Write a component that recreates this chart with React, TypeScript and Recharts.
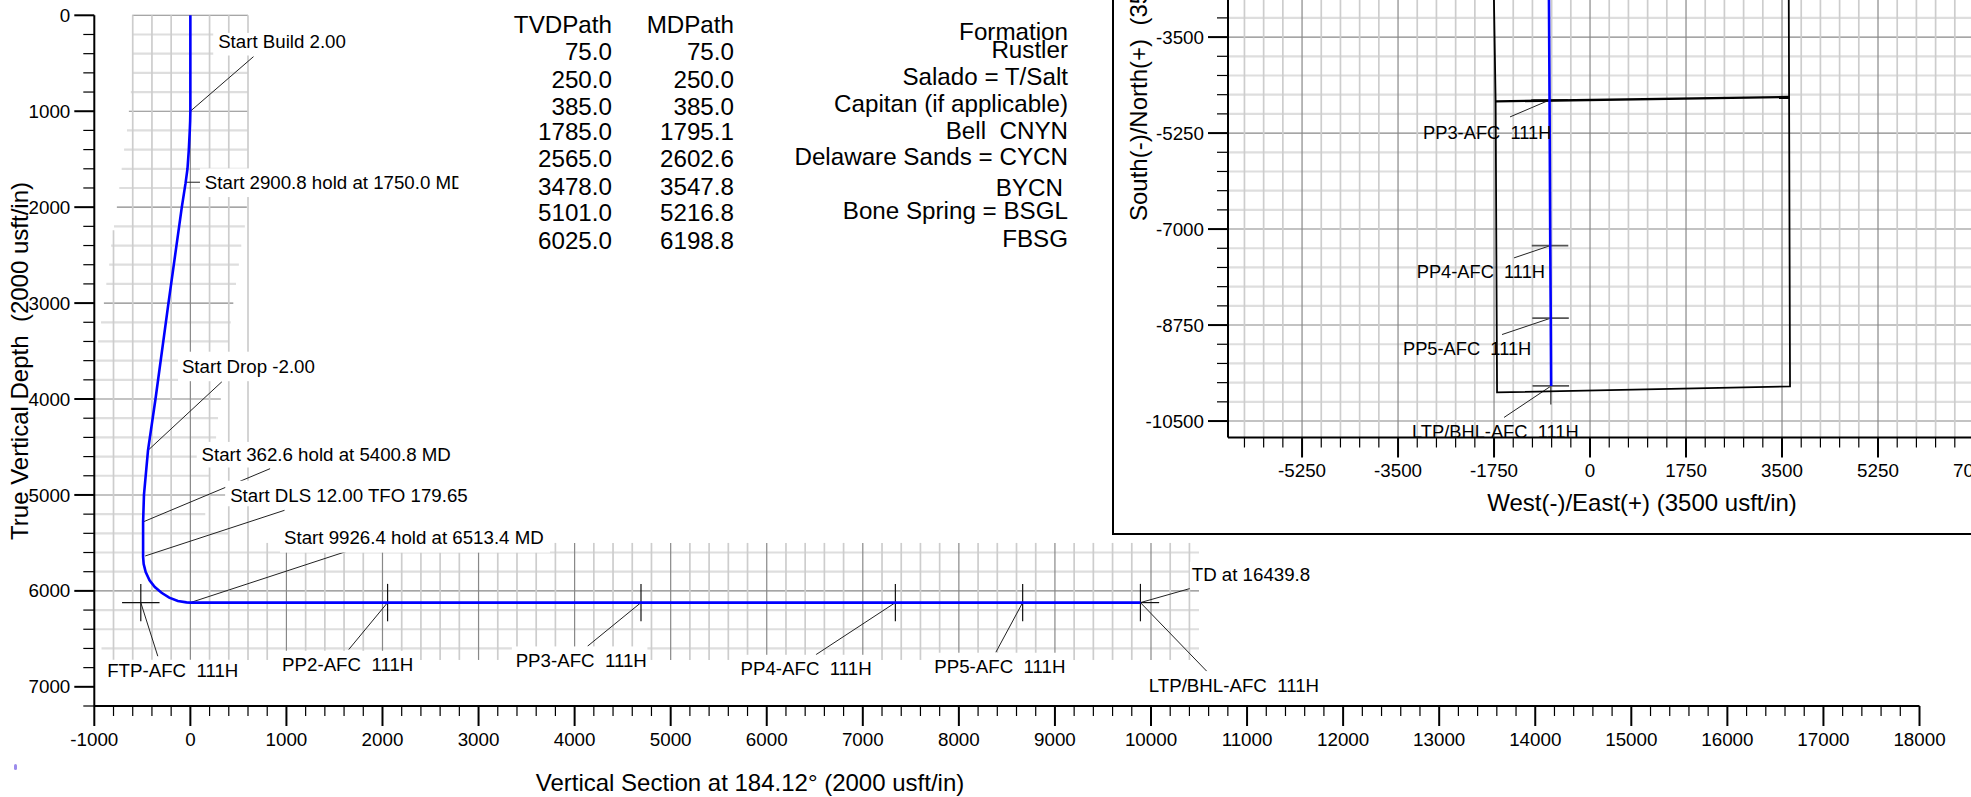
import { ComposedChart, Line, XAxis, YAxis, ReferenceLine, ReferenceDot } from "recharts"

const FONT = '"Liberation Sans", Arial, sans-serif'

// vertical section
const wellVs = [0, 0, -2, -6, -16, -30, -50, -89, -228, -363, -441, -483, -492, -492, -486, -465, -425, -370, -300, -220, -130, -40, 0, 2053, 4691, 7339, 8664, 9890]
const wellTvd = [0, 1000, 1100, 1200, 1400, 1600, 1750, 2000, 3000, 4000, 4535, 5000, 5281, 5645, 5720, 5805, 5890, 5960, 6020, 6070, 6105, 6120, 6122, 6122, 6122, 6122, 6122, 6122]
const xLabels = [-1000, 0, 1000, 2000, 3000, 4000, 5000, 6000, 7000, 8000, 9000, 10000, 11000, 12000, 13000, 14000, 15000, 16000, 17000, 18000]
const yLabels = [0, 1000, 2000, 3000, 4000, 5000, 6000, 7000]

// extent of the section grid at each depth
const gridDepths = [0, 200, 400, 600, 800, 1000, 1200, 1400, 1600, 1800, 2000, 2200, 2400, 2600, 2800, 3000, 3200, 3400, 3600, 3800, 4000, 4200, 4400, 4600, 4800, 5000, 5200, 5400, 5600, 5800, 6000, 6200, 6400, 6600]
const gridFrom = [-605, -605, -605, -605, -620, -640, -660, -690, -715, -740, -765, -795, -825, -845, -875, -900, -930, -960, -980, -1000, -1000, -1000, -1000, -1000, -1000, -1000, -1000, -1000, -1000, -1000, -1000, -1000, -1000, -925]
const gridTo = [600, 600, 600, 600, 600, 600, 600, 600, 600, 600, 588, 567, 530, 505, 475, 447, 420, 393, 365, 340, 317, 288, 268, 240, 206, 365, 155, 400, 10500, 10500, 10500, 10500, 10500, 10500]

const noteTexts = ["Start Build 2.00", "Start 2900.8 hold at 1750.0 MD", "Start Drop -2.00", "Start 362.6 hold at 5400.8 MD", "Start DLS 12.00 TFO 179.65", "Start 9926.4 hold at 6513.4 MD", "TD at 16439.8", "FTP-AFC  111H", "PP2-AFC  111H", "PP3-AFC  111H", "PP4-AFC  111H", "PP5-AFC  111H", "LTP/BHL-AFC  111H"]
const noteSpots = [[289, 275], [151, 1740], [-88, 3660], [116, 4580], [414, 5006], [975, 5447], [10424, 5830], [-866, 6830], [955, 6768], [3386, 6723], [5727, 6810], [7744, 6788], [9977, 6983]]
const noteBoxes = [[-5, -9, 137, 23], [-5, -14, 258.6, 29], [-4, -15, 140, 30], [-5, -13, 265, 26], [-5, -15, 250, 26], [-4, -16, 270, 31], [-2, -13, 150, 28], [-4, -11, 136, 26], [-4, -14, 140, 28], [-4, -14, 136, 28], [-4, -14, 136, 28], [-4, -14, 136, 28], [-4, -14, 180, 28]]
const leaders = [[0, 1000, 657, 431], [-47, 1740, 102, 1740], [-441, 4535, 328, 3820], [-492, 5281, 830, 4726], [-470, 5636, 980, 5160], [0, 6122, 1621, 5590], [9890, 6122, 10404, 5976], [-516, 6122, -339, 6681], [2053, 6122, 1649, 6611], [4691, 6122, 4134, 6577], [7339, 6122, 6512, 6665], [8664, 6122, 8385, 6640], [9890, 6122, 10580, 6837]]
const targetVs = [-516, 2053, 4691, 7339, 8664, 9890]
const targetTvd = 6122

// plan view
const planEast = [-749, -738, -725, -716, -709]
const planNorth = [-2800, -4647, -7302, -8624, -9860]
const leaseEast = [-1752, -1721, -1695, 3646, 3623]
const leaseNorth = [-2800, -4672, -9978, -9867, -2800]
const lineEast = [-1721, 3626]
const lineNorth = [-4672, -4592]
const planXLabels = [-5250, -3500, -1750, 0, 1750, 3500, 5250, 7000]
const planYLabels = [-3500, -5250, -7000, -8750, -10500]
const planNotes = ["PP3-AFC  111H", "PP4-AFC  111H", "PP5-AFC  111H", "LTP/BHL-AFC  111H"]
const planNoteSpots = [[-3044, -5248], [-3160, -7778], [-3410, -9185], [-3245, -10698]]
const planLeaders = [[-749, -4652, -1458, -4955], [-725, -7302, -1385, -7525], [-716, -8624, -1604, -8923], [-709, -9860, -1567, -10434]]
const planMarkEast = [-738, -729, -720, -715]
const planMarkNorth = [-4647, -7302, -8624, -9860]

// depth tables
const tvdPath = ["TVDPath", "75.0", "250.0", "385.0", "1785.0", "2565.0", "3478.0", "5101.0", "6025.0"]
const mdPath = ["MDPath", "75.0", "250.0", "385.0", "1795.1", "2602.6", "3547.8", "5216.8", "6198.8"]
const tableRows = [25, 52, 80, 106.7, 131.7, 159.3, 186.7, 213, 240.7]
const formations = ["Formation", "Rustler", "Salado = T/Salt", "Capitan (if applicable)", "Bell  CNYN", "Delaware Sands = CYCN", "BYCN", "Bone Spring = BSGL", "FBSG"]
const formationRows = [32.3, 50, 77, 104, 131, 157, 188, 210.7, 239]
const formationRight = [1068, 1068, 1068, 1068, 1068, 1068, 1063, 1068, 1068]

const wellData = wellVs.map((x, i) => ({ x, y: wellTvd[i] }))
const planData = planEast.map((x, i) => ({ x, y: planNorth[i] }))
const leaseData = leaseEast.map((x, i) => ({ x, y: leaseNorth[i] }))
const lineData = lineEast.map((x, i) => ({ x, y: lineNorth[i] }))

const steps = (from: number, to: number, step: number) => {
  const out: number[] = []
  for (let v = from; v <= to; v += step) out.push(v)
  return out
}

const LIGHT_H = "#dedede"
const LIGHT_V = "#cdcdcd"
const DARK = "#888888"

const seg = (x1: number, y1: number, x2: number, y2: number, stroke: string, width: number, key: string) => (
  <ReferenceLine
    key={key}
    ifOverflow="visible"
    segment={[{ x: x1, y: y1 }, { x: x2, y: y2 }]}
    stroke={stroke}
    strokeWidth={width}
  />
)

const xTick = (labels: number[]) => ({ x, y, payload }: any) => {
  const major = labels.includes(payload.value)
  return (
    <g>
      <line x1={x} x2={x} y1={y} y2={y + (major ? 20 : 10)} stroke="#000" strokeWidth={major ? 2 : 1.2} />
      {major && (
        <text x={x} y={y + 33} dy=".35em" textAnchor="middle" fontSize={18.8} fontFamily={FONT} fill="#000">
          {payload.value}
        </text>
      )}
    </g>
  )
}

const yTick = (labels: number[]) => ({ x, y, payload }: any) => {
  const major = labels.includes(payload.value)
  return (
    <g>
      <line x1={x} x2={x - (major ? 20 : 11)} y1={y} y2={y} stroke="#000" strokeWidth={major ? 2 : 1.2} />
      {major && (
        <text x={x - 24} y={y} dy=".35em" textAnchor="end" fontSize={18.8} fontFamily={FONT} fill="#000">
          {payload.value}
        </text>
      )}
    </g>
  )
}

const noteShape = (text: string, box: number[]) => ({ cx, cy }: any) => (
  <svg x={cx + box[0]} y={cy + box[1]} width={box[2]} height={box[3]}>
    <rect width={box[2]} height={box[3]} fill="#fff" />
    <text x={-box[0]} y={-box[1]} dy=".35em" fontSize={18.7} fontFamily={FONT} fill="#000" style={{ whiteSpace: "pre" }}>
      {text}
    </text>
  </svg>
)

const plainNote = (text: string) => ({ cx, cy }: any) => (
  <text x={cx} y={cy} dy=".35em" fontSize={18.3} fontFamily={FONT} fill="#000" style={{ whiteSpace: "pre" }}>
    {text}
  </text>
)

function SectionChart() {
  const tubeTop = (x: number) => (x === -800 ? 2240 : x <= 600 ? 0 : 5500)
  return (
    <ComposedChart
      width={1971}
      height={797}
      data={wellData}
      margin={{ top: 15.3, left: 93.3, right: 51.5, bottom: 90 }}
      style={{ position: "absolute", left: 0, top: 0 }}
    >
      <XAxis
        dataKey="x"
        type="number"
        domain={[-1000, 18000]}
        ticks={steps(-1000, 18000, 200)}
        interval={0}
        height={1}
        tickSize={0}
        tickMargin={0}
        tickLine={false}
        axisLine={{ stroke: "#000", strokeWidth: 2 }}
        tick={xTick(xLabels)}
      />
      <YAxis
        dataKey="y"
        type="number"
        reversed
        domain={[0, 7200]}
        ticks={steps(0, 7200, 200)}
        interval={0}
        width={1}
        tickSize={0}
        tickMargin={0}
        tickLine={false}
        axisLine={{ stroke: "#000", strokeWidth: 2 }}
        tick={yTick(yLabels)}
      />
      {gridDepths.map((d, i) =>
        seg(gridFrom[i], d, gridTo[i], d, d % 1000 === 0 ? DARK : LIGHT_H, d % 1000 === 0 ? 1.1 : 2.2, `h${d}`)
      )}
      {steps(-800, 10400, 200).map((v) =>
        seg(v, tubeTop(v), v, 6720, v % 1000 === 0 ? DARK : LIGHT_V, v % 1000 === 0 ? 1.2 : 1.7, `v${v}`)
      )}
      {leaders.map((l, i) => seg(l[0], l[1], l[2], l[3], "#222", 1, `l${i}`))}
      {targetVs.map((v) => seg(v, targetTvd - 195, v, targetTvd + 195, "#111", 1.2, `t${v}`))}
      {seg(-711, targetTvd, -321, targetTvd, "#111", 1.2, "ftp")}
      {seg(9890, targetTvd, 10085, targetTvd, "#111", 1.2, "ltp")}
      {noteTexts.map((t, i) => (
        <ReferenceDot
          key={t}
          x={noteSpots[i][0]}
          y={noteSpots[i][1]}
          r={0}
          ifOverflow="visible"
          shape={noteShape(t, noteBoxes[i])}
        />
      ))}
      <Line dataKey="y" stroke="#0000ff" strokeWidth={2.6} dot={false} isAnimationActive={false} />
    </ComposedChart>
  )
}

function PlanChart() {
  return (
    <ComposedChart
      width={1984}
      height={570}
      margin={{ top: 8.7, left: 1227, right: 10, bottom: 121.5 }}
      style={{ position: "absolute", left: 0, top: -10 }}
    >
      <XAxis
        dataKey="x"
        type="number"
        domain={[-6600, 7000]}
        ticks={steps(-6300, 7000, 350)}
        interval={0}
        height={1}
        tickSize={0}
        tickMargin={0}
        tickLine={false}
        axisLine={{ stroke: "#000", strokeWidth: 2 }}
        tick={xTick(planXLabels)}
      />
      <YAxis
        dataKey="y"
        type="number"
        domain={[-10800, -2800]}
        ticks={steps(-10500, -2800, 350)}
        interval={0}
        width={1}
        tickSize={0}
        tickMargin={0}
        tickLine={false}
        axisLine={{ stroke: "#000", strokeWidth: 2 }}
        tick={yTick(planYLabels)}
      />
      {steps(-10500, -2800, 350).map((v) =>
        seg(-6600, v, 7000, v, v % 1750 === 0 ? DARK : LIGHT_H, v % 1750 === 0 ? 1.1 : 2.2, `h${v}`)
      )}
      {steps(-6300, 7000, 350).map((v) =>
        seg(v, -10800, v, -2800, v % 1750 === 0 ? DARK : LIGHT_V, v % 1750 === 0 ? 1.2 : 1.7, `v${v}`)
      )}
      {planLeaders.map((l, i) => seg(l[0], l[1], l[2], l[3], "#222", 1, `l${i}`))}
      {planMarkEast.map((x, i) => seg(x - 333, planMarkNorth[i], x + 333, planMarkNorth[i], "#555", 1.8, `m${i}`))}
      {seg(-715, -9860, -715, -10200, "#555", 1.5, "ltpv")}
      <Line data={leaseData} dataKey="y" stroke="#000" strokeWidth={1.8} dot={false} isAnimationActive={false} />
      <Line data={lineData} dataKey="y" stroke="#000" strokeWidth={2.4} dot={false} isAnimationActive={false} />
      <Line data={planData} dataKey="y" stroke="#0000ff" strokeWidth={2.6} dot={false} isAnimationActive={false} />
      {planNotes.map((t, i) => (
        <ReferenceDot key={t} x={planNoteSpots[i][0]} y={planNoteSpots[i][1]} r={0} ifOverflow="visible" shape={plainNote(t)} />
      ))}
    </ComposedChart>
  )
}

const cell = (text: string, right: number, y: number) => (
  <div
    key={`${text}${right}${y}`}
    style={{ position: "absolute", right: 1971 - right, top: y - 15, lineHeight: "30px", fontSize: 24.2, whiteSpace: "pre" }}
  >
    {text}
  </div>
)

const title = (text: string, left: number, top: number, extra: object) => (
  <div
    style={{ position: "absolute", left, top, lineHeight: "30px", fontSize: 24, whiteSpace: "pre", ...extra }}
  >
    {text}
  </div>
)

export default function App() {
  return (
    <div style={{ position: "absolute", left: 0, top: 0, width: 1971, height: 797, overflow: "hidden", background: "#fff", fontFamily: FONT, color: "#000" }}>
      <SectionChart />
      {title("True Vertical Depth  (2000 usft/in)", 20, 361, { transform: "translate(-50%,-50%) rotate(-90deg)" })}
      {title("Vertical Section at 184.12° (2000 usft/in)", 750, 783, { transform: "translate(-50%,-50%)" })}
      {tvdPath.map((t, i) => cell(t, 612, tableRows[i]))}
      {mdPath.map((t, i) => cell(t, 734, tableRows[i]))}
      {formations.map((t, i) => cell(t, formationRight[i], formationRows[i]))}
      <div style={{ position: "absolute", left: 1112, top: -10, width: 900, height: 541, border: "2.5px solid #000", background: "#fff" }} />
      <PlanChart />
      {title("West(-)/East(+) (3500 usft/in)", 1642, 503, { transform: "translate(-50%,-50%)" })}
      {title("South(-)/North(+)  (3500 usft/in)", 1139, 221, { transformOrigin: "0 50%", transform: "translateY(-50%) rotate(-90deg)" })}
      <div style={{ position: "absolute", left: 13.5, top: 764, width: 3, height: 6, borderRadius: 2, background: "#9c8cec" }} />
    </div>
  )
}
